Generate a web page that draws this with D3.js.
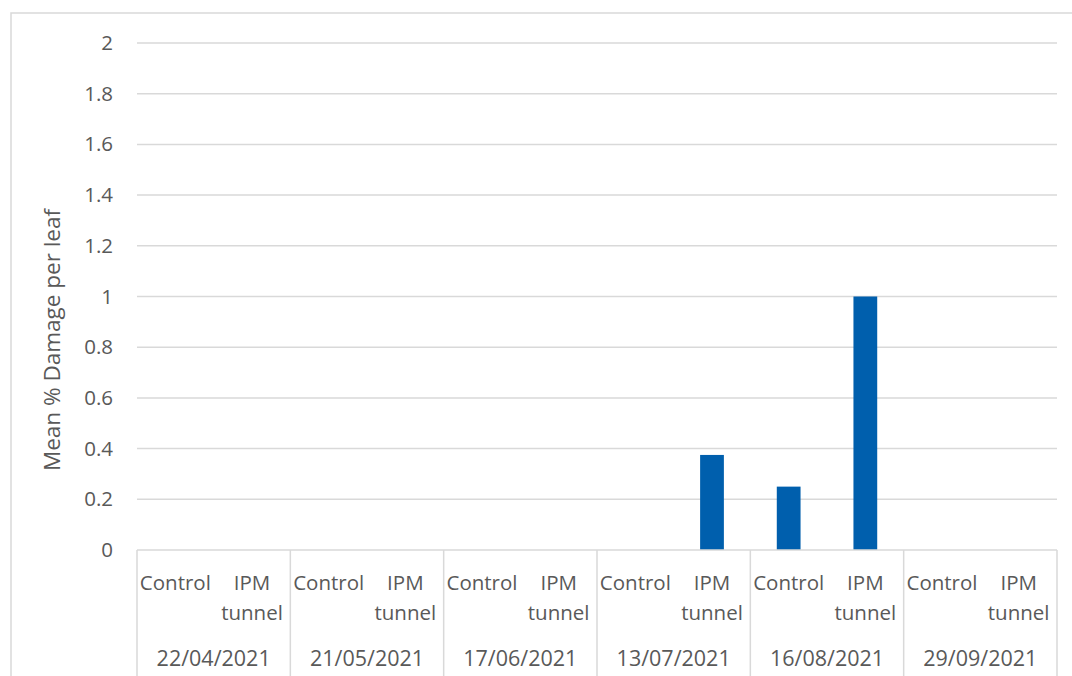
<!DOCTYPE html>
<html>
<head>
<meta charset="utf-8">
<script src="https://cdn.jsdelivr.net/npm/d3@7"></script>
<style>
  html, body { margin: 0; padding: 0; background: #fff; }
  svg { display: block; }
  text { font-family: "Open Sans", "Noto Sans", sans-serif; fill: #595959; }
</style>
</head>
<body>
<svg id="chart" width="1072" height="676"></svg>
<script>
// Sampling dates and the two treatments at each date
const dates = ["22/04/2021", "21/05/2021", "17/06/2021", "13/07/2021", "16/08/2021", "29/09/2021"];
const treatments = ["Control", "IPM tunnel"];
// Mean % damage per leaf, one value per treatment for each date
const controlValues = [0, 0, 0, 0, 0.25, 0];
const ipmValues = [0, 0, 0, 0.375, 1, 0];
const yTicks = [0, 0.2, 0.4, 0.6, 0.8, 1, 1.2, 1.4, 1.6, 1.8, 2];

const rows = [];
dates.forEach((d, i) => {
  rows.push({ key: d + "|Control", date: d, treatment: treatments[0], value: controlValues[i] });
  rows.push({ key: d + "|IPM", date: d, treatment: treatments[1], value: ipmValues[i] });
});

const svg = d3.select("#chart");
const plotLeft = 137, plotRight = 1057, plotTop = 43, plotBottom = 550;
const labelSize = 20.5;

// Chart frame
svg.append("rect")
  .attr("x", 11).attr("y", 13)
  .attr("width", 1100).attr("height", 700)
  .attr("fill", "none").attr("stroke", "#d9d9d9").attr("stroke-width", 1.5);

const y = d3.scaleLinear().domain([0, 2]).range([plotBottom, plotTop]);
const x = d3.scaleBand().domain(rows.map(r => r.key)).range([plotLeft, plotRight]).paddingInner(0.69).paddingOuter(0.345);
const xGroup = d3.scaleBand().domain(dates).range([plotLeft, plotRight]).padding(0);

// Gridlines
svg.append("g")
  .selectAll("line")
  .data(yTicks.filter(t => t > 0))
  .join("line")
  .attr("x1", plotLeft).attr("x2", plotRight)
  .attr("y1", d => y(d)).attr("y2", d => y(d))
  .attr("stroke", "#d9d9d9").attr("stroke-width", 1.5);

// Y axis labels
const yAxis = d3.axisLeft(y).tickValues(yTicks).tickSize(0).tickPadding(0).tickFormat(d3.format("~g"));
const yg = svg.append("g").attr("transform", `translate(113,0)`).call(yAxis);
yg.select(".domain").remove();
yg.selectAll("text").attr("font-size", labelSize).style("font-family", "'Open Sans', sans-serif").attr("fill", "#595959");

// Bars
svg.append("g")
  .selectAll("rect")
  .data(rows.filter(r => r.value > 0))
  .join("rect")
  .attr("x", d => x(d.key))
  .attr("y", d => y(d.value))
  .attr("width", x.bandwidth())
  .attr("height", d => y(0) - y(d.value))
  .attr("fill", "#005fad");

// Category axis line and group separators
svg.append("line")
  .attr("x1", plotLeft).attr("x2", plotRight)
  .attr("y1", plotBottom).attr("y2", plotBottom)
  .attr("stroke", "#d9d9d9").attr("stroke-width", 1.5);

const bounds = dates.map(d => xGroup(d)).concat([plotRight]);
svg.append("g")
  .selectAll("line")
  .data(bounds)
  .join("line")
  .attr("x1", d => d).attr("x2", d => d)
  .attr("y1", plotBottom).attr("y2", 676)
  .attr("stroke", "#d9d9d9").attr("stroke-width", 1.5);

// Treatment labels
const slot = (plotRight - plotLeft) / rows.length;
const labels = svg.append("g");
rows.forEach((r, i) => {
  const cx = plotLeft + slot * (i + 0.5);
  const words = r.treatment === "IPM tunnel" ? ["IPM", "tunnel"] : [r.treatment];
  words.forEach((w, j) => {
    labels.append("text")
      .attr("x", cx).attr("y", 590 + j * 29.5)
      .attr("text-anchor", "middle")
      .attr("font-size", labelSize)
      .text(w);
  });
});

// Date labels
svg.append("g")
  .selectAll("text")
  .data(dates)
  .join("text")
  .attr("x", d => xGroup(d) + xGroup.bandwidth() / 2)
  .attr("y", 666)
  .attr("text-anchor", "middle")
  .attr("font-size", 21.5)
  .text(d => d);

// Y axis title
svg.append("text")
  .attr("transform", "translate(60,340) rotate(-90)")
  .attr("text-anchor", "middle")
  .attr("font-size", 22.5)
  .text("Mean % Damage per leaf");
</script>
</body>
</html>
